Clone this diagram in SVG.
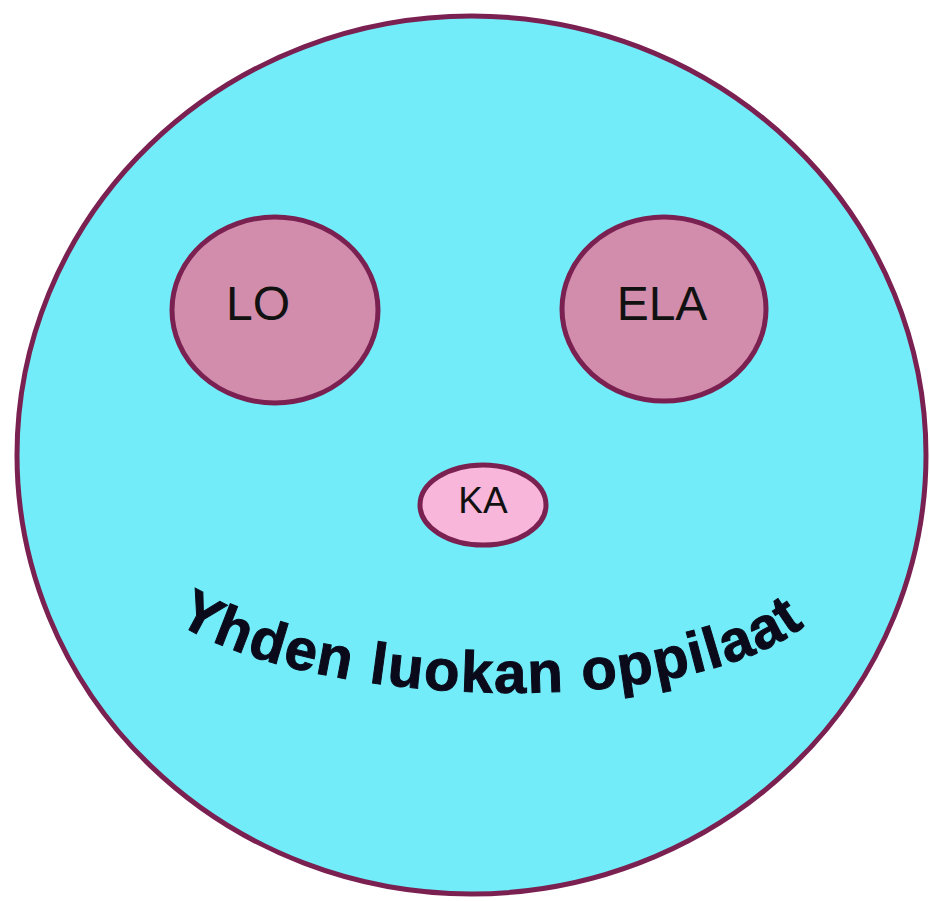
<svg xmlns="http://www.w3.org/2000/svg" width="930" height="901" viewBox="0 0 930 901">
<style>
.outline{stroke:#7b2152;stroke-width:5}
.lbl{font-family:"Liberation Sans",Arial,sans-serif;fill:#111;text-anchor:middle}
</style>
<defs>
<path id="smile" d="M 176 622 C 310 709 695 725 814 618"/>
</defs>
<rect width="930" height="901" fill="#ffffff"/>
<g id="face">
<ellipse class="outline" cx="471.5" cy="455" rx="454.5" ry="439" fill="#73ecfa"/>
</g>
<g id="lo">
<ellipse class="outline" cx="275" cy="310" rx="103" ry="93" fill="#d18dab"/>
<text class="lbl" x="258" y="320" font-size="48">LO</text>
</g>
<g id="ela">
<ellipse class="outline" cx="664" cy="309" rx="102" ry="92" fill="#d18dab"/>
<text class="lbl" x="662" y="320" font-size="48">ELA</text>
</g>
<g id="ka">
<ellipse class="outline" cx="483" cy="505" rx="63" ry="40" fill="#f8b6da"/>
<text class="lbl" x="483" y="513" font-size="37">KA</text>
</g>
<g id="caption">
<text font-family="'Liberation Sans',Arial,sans-serif" font-weight="bold" font-size="58" fill="#0a0a1a" stroke="#0a0a1a" stroke-width="1"><textPath href="#smile" textLength="652" lengthAdjust="spacing">Yhden luokan oppilaat</textPath></text>
</g>
</svg>
